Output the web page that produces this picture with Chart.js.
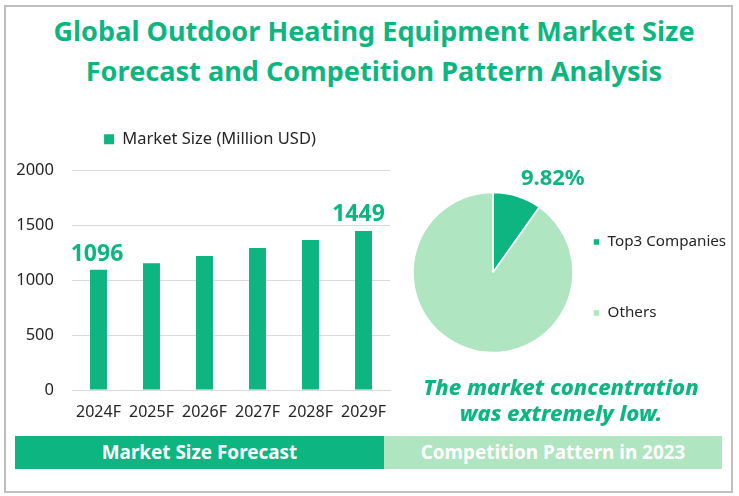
<!DOCTYPE html>
<html><head><meta charset="utf-8">
<script src="https://cdn.jsdelivr.net/npm/chart.js@4"></script>
<style>
html,body{margin:0;padding:0;background:#fff;}
body{width:739px;height:496px;position:relative;overflow:hidden;font-family:"Noto Sans",sans-serif;}
#frame{position:absolute;left:4px;top:5px;width:729px;height:488px;box-sizing:border-box;border:2px solid #bfbfbf;}
#title{position:absolute;left:0;top:11px;width:748px;text-align:center;color:#0db680;font-weight:700;font-size:27.1px;line-height:40px;white-space:nowrap;}
#note{position:absolute;left:385px;top:373px;width:352px;text-align:center;color:#0db680;font-weight:800;font-style:italic;font-size:22px;line-height:26px;white-space:nowrap;}
.band{position:absolute;top:436px;height:33px;line-height:32px;text-align:center;color:#fff;font-weight:700;font-size:18.9px;white-space:nowrap;}
#b1{left:15px;width:369px;background:#0db680;}
#b2{left:384px;width:338px;background:#afe5c0;}
#c1{position:absolute;left:0;top:120px;}
#c2{position:absolute;left:400px;top:160px;}
</style></head><body>
<div id="frame"></div>
<div id="title">Global Outdoor Heating Equipment Market Size<br>Forecast and Competition Pattern Analysis</div>
<canvas id="c1" width="400" height="310" style="width:400px;height:310px"></canvas>
<canvas id="c2" width="339" height="225" style="width:339px;height:225px"></canvas>
<div id="note">The market concentration<br>was extremely low.</div>
<div class="band" id="b1">Market Size Forecast</div>
<div class="band" id="b2">Competition Pattern in 2023</div>
<script>
const categories = ["2024F","2025F","2026F","2027F","2028F","2029F"];
const marketSize = [1096,1155,1222,1293,1367,1449];
const labelledYears = ["2024F","2029F"];
const seriesName = "Market Size (Million USD)";
const shareLabels = ["Top3 Companies","Others"];
const shareValues = [9.82,90.18];
const GREEN = "#0db680", LIGHT = "#afe5c0", INK = "#262626";
const FONT = '"Noto Sans",sans-serif';

function legendAdjust(id, fitChange, dx, dy){
  return {
    id,
    beforeInit(chart){
      const fit = chart.legend.fit;
      chart.legend.fit = function(){ fit.call(this); fitChange(this); };
    },
    afterLayout(chart){
      const l = chart.legend;
      l.left += dx; l.right += Math.max(dx,0); l.top += dy; l.bottom += dy;
    }
  };
}

const barLabels = {
  id:"barLabels",
  afterDatasetsDraw(chart){
    const ctx = chart.ctx, meta = chart.getDatasetMeta(0);
    ctx.save();
    ctx.fillStyle = GREEN; ctx.font = "700 23px "+FONT;
    ctx.textAlign = "center"; ctx.textBaseline = "middle";
    meta.data.forEach((el,i)=>{
      if(labelledYears.includes(categories[i])){
        const shift = i===0 ? -1.5 : -5;
        ctx.fillText(String(marketSize[i]), el.x+shift, el.y-(i===0?15:17));
      }
    });
    ctx.restore();
  }
};
const pieLabel = {
  id:"pieLabel",
  afterDatasetsDraw(chart){
    const ctx = chart.ctx, el = chart.getDatasetMeta(0).data[0];
    const mid = (el.startAngle+el.endAngle)/2;
    ctx.save();
    ctx.fillStyle = GREEN; ctx.font = "700 22px "+FONT;
    ctx.textAlign = "center"; ctx.textBaseline = "middle";
    ctx.fillText(shareValues[0].toFixed(2)+"%", el.x+Math.cos(mid)*118+24, el.y+Math.sin(mid)*112+13);
    ctx.restore();
  }
};

new Chart(document.getElementById("c1"),{
  type:"bar",
  data:{labels:categories,datasets:[{label:seriesName,data:marketSize,backgroundColor:GREEN,barPercentage:0.32,categoryPercentage:1}]},
  plugins:[barLabels, legendAdjust("barLegend", l=>{ l.height += 16; }, 15, 3)],
  options:{
    responsive:false,animation:false,
    layout:{padding:{top:0,right:10,bottom:0,left:0}},
    plugins:{
      tooltip:{enabled:false},
      legend:{position:"top",labels:{boxWidth:10,boxHeight:10,padding:8,color:INK,font:{family:FONT,size:16.5}}}
    },
    scales:{
      x:{grid:{display:false},border:{color:"#d9d9d9"},afterFit(s){s.height=40;},
         ticks:{color:INK,font:{family:FONT,size:16},padding:5,maxRotation:0,autoSkip:false}},
      y:{min:0,max:2000,afterFit(s){s.width=72;},
         grid:{color:"#d9d9d9",drawTicks:false},border:{display:false},
         ticks:{stepSize:500,color:INK,font:{family:FONT,size:16.5},padding:18,callback:v=>String(v)}}
    }
  }
});

new Chart(document.getElementById("c2"),{
  type:"pie",
  data:{labels:shareLabels,datasets:[{data:shareValues,backgroundColor:[GREEN,LIGHT],borderColor:"#fff",borderWidth:1.5,radius:80}]},
  plugins:[pieLabel, legendAdjust("pieLegend", l=>{ l.width = 153; }, -49, 5)],
  options:{
    responsive:false,animation:false,
    plugins:{
      tooltip:{enabled:false},
      legend:{position:"right",labels:{boxWidth:7,boxHeight:7,padding:56,color:INK,font:{family:FONT,size:15.2}}}
    }
  }
});
</script>
</body></html>
